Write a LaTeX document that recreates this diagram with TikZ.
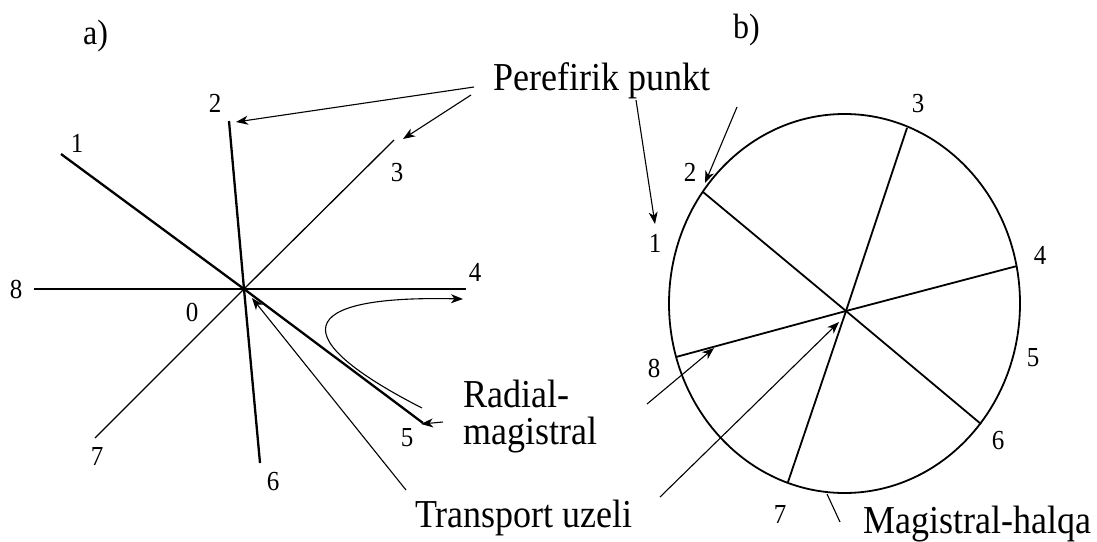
\documentclass[tikz,border=0pt]{standalone}
\usepackage{fontspec}
\setmainfont{Liberation Serif}
\usetikzlibrary{arrows.meta}
\newcommand\vsx[1]{\scalebox{1}[1.1]{#1}}
\begin{document}
\begin{tikzpicture}[x=1pt,y=-1pt,
  num/.style={font=\fontsize{25}{25}\selectfont, inner sep=0pt},
  lbl/.style={font=\fontsize{36}{31.8}\selectfont, inner sep=0pt, anchor=base west},
  tag/.style={font=\fontsize{32}{32}\selectfont, inner sep=0pt, anchor=base west},
  heavy/.style={line width=2.3pt},
  light/.style={line width=1.3pt},
  ring/.style={line width=1.8pt},
  ptr/.style={line width=1.1pt, -{Stealth[length=12pt,width=9pt,inset=3.5pt]}},
  plain/.style={line width=1.1pt}]
\useasboundingbox (0,0) rectangle (1097,541);
% ---------- a) ----------
\node[tag] (ta) at (83,44) {\vsx{a)}};
\coordinate (O) at (244,289);
\coordinate (p1) at (61,154);
\coordinate (p5) at (423,423);
\coordinate (p2) at (229,121);
\coordinate (p6) at (260,463);
\coordinate (p3) at (394,140);
\coordinate (p7) at (95,438);
\coordinate (p8) at (34,289);
\coordinate (p4) at (466,289);
\draw[heavy] (p1) -- (O) -- (p5);
\draw[heavy] (p2) -- (O) -- (p6);
\draw[light] (p3) -- (O) -- (p7);
\draw[light] (p8) -- (O) -- (p4);
\node[num] (n1) at (77,143) {\vsx{1}};
\node[num] (n2) at (215,103) {\vsx{2}};
\node[num] (n3) at (397,173) {\vsx{3}};
\node[num] (n4) at (475,272) {\vsx{4}};
\node[num] (n8) at (16,289) {\vsx{8}};
\node[num] (n0) at (192,312) {\vsx{0}};
\node[num] (n7) at (97,456) {\vsx{7}};
\node[num] (n6) at (273,482) {\vsx{6}};
\node[num] (n5) at (407,438) {\vsx{5}};
% labels
\node[lbl] (pp) at (493,90) {\vsx{Perefirik punkt}};
\node[lbl] (rm) at (463,407) {\vsx{\begin{tabular}[t]{@{}l@{}}Radial-\\magistral\end{tabular}}};
\node[lbl] (tu) at (415,527) {\vsx{Transport uzeli}};
% pointers a)
\coordinate (s1) at (474,87);
\coordinate (e1) at (236,122);
\coordinate (s2) at (471,95);
\coordinate (e2) at (403,139);
\draw[ptr] (s1) -- (e1);
\draw[ptr] (s2) -- (e2);
\coordinate (s5) at (443,422);
\coordinate (e5) at (421,424);
\draw[ptr] (s5) -- (e5);
\coordinate (stu) at (406,490);
\coordinate (etu) at (252,298);
\draw[ptr] (stu) -- (etu);
\coordinate (cs) at (422,408);
\coordinate (ce) at (463,299);
\draw[ptr] (cs) .. controls (285,338) and (292,295) .. (ce);
% ---------- b) ----------
\node[tag] (tb) at (733,38) {\vsx{b)}};
\coordinate (H) at (846,311);
\draw[ring] (844.5,303.5) ellipse [x radius=175.5, y radius=189.5];
\coordinate (q2) at (703,192);
\coordinate (q6) at (981,424);
\coordinate (q3) at (907,128);
\coordinate (q7) at (788,482);
\coordinate (q4) at (1017,266);
\coordinate (q8) at (676,357);
\draw[ring] (q2) -- (H) -- (q6);
\draw[ring] (q3) -- (H) -- (q7);
\draw[ring] (q4) -- (H) -- (q8);
\node[num] (m1) at (655,243) {\vsx{1}};
\node[num] (m2) at (690,172) {\vsx{2}};
\node[num] (m3) at (918,104) {\vsx{3}};
\node[num] (m4) at (1040,255) {\vsx{4}};
\node[num] (m5) at (1033,358) {\vsx{5}};
\node[num] (m6) at (998,441) {\vsx{6}};
\node[num] (m7) at (780,514) {\vsx{7}};
\node[num] (m8) at (654,368) {\vsx{8}};
\node[lbl] (mh) at (863,533) {\vsx{Magistral-halqa}};
\coordinate (s3) at (636,100);
\coordinate (e3) at (655,224);
\draw[ptr] (s3) -- (e3);
\coordinate (s4) at (737,107);
\coordinate (e4) at (705,183);
\draw[ptr] (s4) -- (e4);
\coordinate (s6) at (660,497);
\coordinate (e6) at (839,322);
\draw[ptr] (s6) -- (e6);
\coordinate (s7) at (647,404);
\coordinate (e7) at (714,348);
\draw[ptr] (s7) -- (e7);
\coordinate (s8) at (840,522);
\coordinate (e8) at (827,494);
\draw[plain] (s8) -- (e8);
\end{tikzpicture}
\end{document}
